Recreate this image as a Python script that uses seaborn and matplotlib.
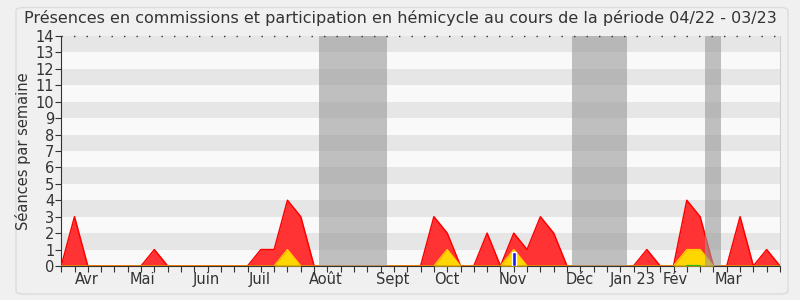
import numpy as np
import pandas as pd
import matplotlib
matplotlib.use("Agg")
import matplotlib.pyplot as plt
import seaborn as sns
from matplotlib.patches import FancyBboxPatch

# ---- data ----
weeks = list(range(55))
presences = [0, 3, 0, 0, 0, 0, 0, 1, 0, 0, 0, 0, 0, 0, 0, 1, 1, 4, 3, 0,
             0, 0, 0, 0, 0, 0, 0, 0, 3, 2, 0, 0, 2, 0, 2, 1, 3, 2, 0, 0,
             0, 0, 0, 0, 1, 0, 0, 4, 3, 0, 0, 3, 0, 1, 0]
participation = [0, 0, 0, 0, 0, 0, 0, 0, 0, 0, 0, 0, 0, 0, 0, 0, 0, 1, 0, 0,
                 0, 0, 0, 0, 0, 0, 0, 0, 0, 1, 0, 0, 0, 0, 1, 0, 0, 0, 0, 0,
                 0, 0, 0, 0, 0, 0, 0, 1, 1, 0, 0, 0, 0, 0, 0]
questions_week = [34]
questions_val = [0.85]
vacations = [(19.4, 24.5), (38.4, 42.5), (48.4, 49.6)]
month_labels = ["Avr", "Mai", "Juin", "Juil", "Août", "Sept", "Oct", "Nov",
                "Déc", "Jan 23", "Fév", "Mar"]
month_pos = [1.9, 6.1, 10.9, 14.9, 19.9, 24.9, 29.0, 33.9, 38.95, 42.9, 46.1, 50.1]
title = "Présences en commissions et participation en hémicycle au cours de la période 04/22 - 03/23"
ylabel = "Séances par semaine"

df = pd.DataFrame({"week": weeks, "presences": presences, "participation": participation})

sns.set_theme(style="white")
plt.rcParams["font.family"] = ["DejaVu Sans"]

fig = plt.figure(figsize=(8, 3), dpi=100, facecolor="#f0f0f0")
border = FancyBboxPatch((0.02, 0.02), 0.965, 0.955, boxstyle="round,pad=0.0,rounding_size=0.01",
                        transform=fig.transFigure, facecolor="#f0f0f0", edgecolor="#dcdcdc",
                        linewidth=1.0, zorder=-10)
fig.patches.append(border)

ax = fig.add_axes([0.0765, 0.1133, 0.8985, 0.7667])
ax.set_facecolor("#f9f9f9")

# stripes
for k in range(1, 14, 2):
    ax.axhspan(k, k + 1, color="#e6e6e6", zorder=0, lw=0)

# areas
ax.fill_between(df["week"], df["presences"], color="#ff3333", alpha=1, zorder=2, lw=0)
sns.lineplot(data=df, x="week", y="presences", color="#ff0000", lw=1.1, ax=ax, zorder=3)
ax.fill_between(df["week"], df["participation"], color="#ffd700", zorder=4, lw=0)
sns.lineplot(data=df, x="week", y="participation", color="#ffcc00", lw=1.0, ax=ax, zorder=5)
ax.plot([0, 54], [0, 0], color="#8b0000", lw=1.0, zorder=5)
ax.plot([47, 48], [0.03, 0.03], color="#22bb22", lw=1.6, zorder=6)
ax.bar(questions_week, questions_val, width=0.3, color="#1a1aee", zorder=7)

# vacation bands
for a, b in vacations:
    ax.axvspan(a, b, color="#999999", alpha=0.6, zorder=8, lw=0)

# top dotted line
ax.axhline(14, color="#333333", lw=1.0, ls=(0, (1, 8)), zorder=9, clip_on=False)

ax.set_xlim(0, 54)
ax.set_ylim(0, 14)
ax.set_yticks(range(0, 15))
ax.set_yticklabels([str(v) for v in range(0, 15)], fontsize=10.5, color="#333333")
ax.xaxis.remove_overlapping_locs = False
ax.set_xticks(weeks)
ax.set_xticklabels([])
ax.set_xticks(month_pos, month_labels, minor=True)
ax.tick_params(axis="x", which="major", length=4, width=0.8, color="#333333", bottom=True, pad=2)
ax.tick_params(axis="x", which="minor", length=0, labelsize=10.5, labelcolor="#333333", pad=4)
ax.tick_params(axis="y", which="major", length=4, width=0.8, color="#333333", left=True, pad=1)
ax.set_xlabel("")
ax.set_ylabel(ylabel, fontsize=10.5, color="#333333", labelpad=3)

ax.spines["top"].set_visible(False)
ax.spines["left"].set_color("#333333")
ax.spines["bottom"].set_color("#333333")
ax.spines["right"].set_color("#d0d0d0")
for s in ax.spines.values():
    s.set_linewidth(0.8)

fig.text(0.5, 0.94, title, ha="center", va="center", fontsize=11.5, color="#333333")

fig.savefig("out.png", dpi=100, facecolor=fig.get_facecolor())
